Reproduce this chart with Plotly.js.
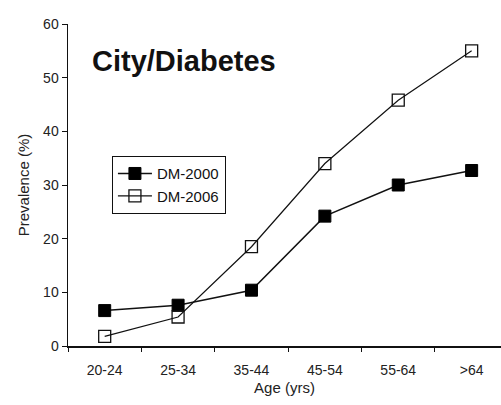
<!DOCTYPE html>
<html><head><meta charset="utf-8">
<script src="https://cdn.plot.ly/plotly-3.0.1.min.js"></script>
<style>html,body{margin:0;padding:0;background:#fff}#c{width:501px;height:405px}</style>
</head><body><div id="c"></div>
<script>
const categories = ["20-24","25-34","35-44","45-54","55-64",">64"];
const dm2000 = [6.6, 7.6, 10.4, 24.2, 30.0, 32.7];
const dm2006 = [1.8, 5.4, 18.5, 34.0, 45.8, 55.0];
const seriesNames = ["DM-2000","DM-2006"];
const yTicks = [0,10,20,30,40,50,60];

const font = {family: "Liberation Sans, Arial, sans-serif", color: "#222", size: 13};
const traces = [
  {x: categories, y: dm2000, name: seriesNames[0], type: "scatter", mode: "lines+markers",
   line: {color: "#111", width: 1.5},
   marker: {symbol: "square", size: 12, color: "#000", line: {color: "#000", width: 1}}},
  {x: categories, y: dm2006, name: seriesNames[1], type: "scatter", mode: "lines+markers",
   line: {color: "#111", width: 1.2},
   marker: {symbol: "square-open", size: 12, color: "#111", line: {color: "#111", width: 1.3}}}
];
const layout = {
  width: 501, height: 405,
  margin: {l: 68, r: 0, t: 24, b: 59},
  paper_bgcolor: "#fff", plot_bgcolor: "#fff",
  font: font,
  showlegend: true,
  legend: {x: 0.101, y: 0.59, xanchor: "left", yanchor: "top", bordercolor: "#111", borderwidth: 1.2,
           bgcolor: "#fff", font: {family: font.family, size: 15, color: "#111"}, tracegroupgap: 0, itemwidth: 34},
  xaxis: {type: "category", range: [-0.5, 5.4], showgrid: false, zeroline: false,
          showline: true, linecolor: "#111", linewidth: 1.5,
          ticks: "outside", ticklen: 4, tickcolor: "#111", tickson: "boundaries",
          ticklabelstandoff: 11,
          tickfont: {family: font.family, size: 14, color: "#222"},
          title: {text: "Age (yrs)", font: {family: font.family, size: 15, color: "#222"}, standoff: 5}},
  yaxis: {range: [0, 60], tickvals: yTicks, showgrid: false, zeroline: false,
          showline: true, linecolor: "#111", linewidth: 1.5,
          ticks: "outside", ticklen: 5, tickcolor: "#111",
          tickfont: {family: font.family, size: 14, color: "#222"},
          title: {text: "Prevalence (%)", font: {family: font.family, size: 15, color: "#222"}, standoff: 10}},
  annotations: [{text: "<b>City/Diabetes</b>", xref: "paper", yref: "paper", x: 0.05, y: 0.885,
                 xanchor: "left", yanchor: "middle", showarrow: false,
                 font: {family: font.family, size: 29, color: "#111"}}]
};
Plotly.newPlot("c", traces, layout, {displayModeBar: false, staticPlot: true});
</script></body></html>
